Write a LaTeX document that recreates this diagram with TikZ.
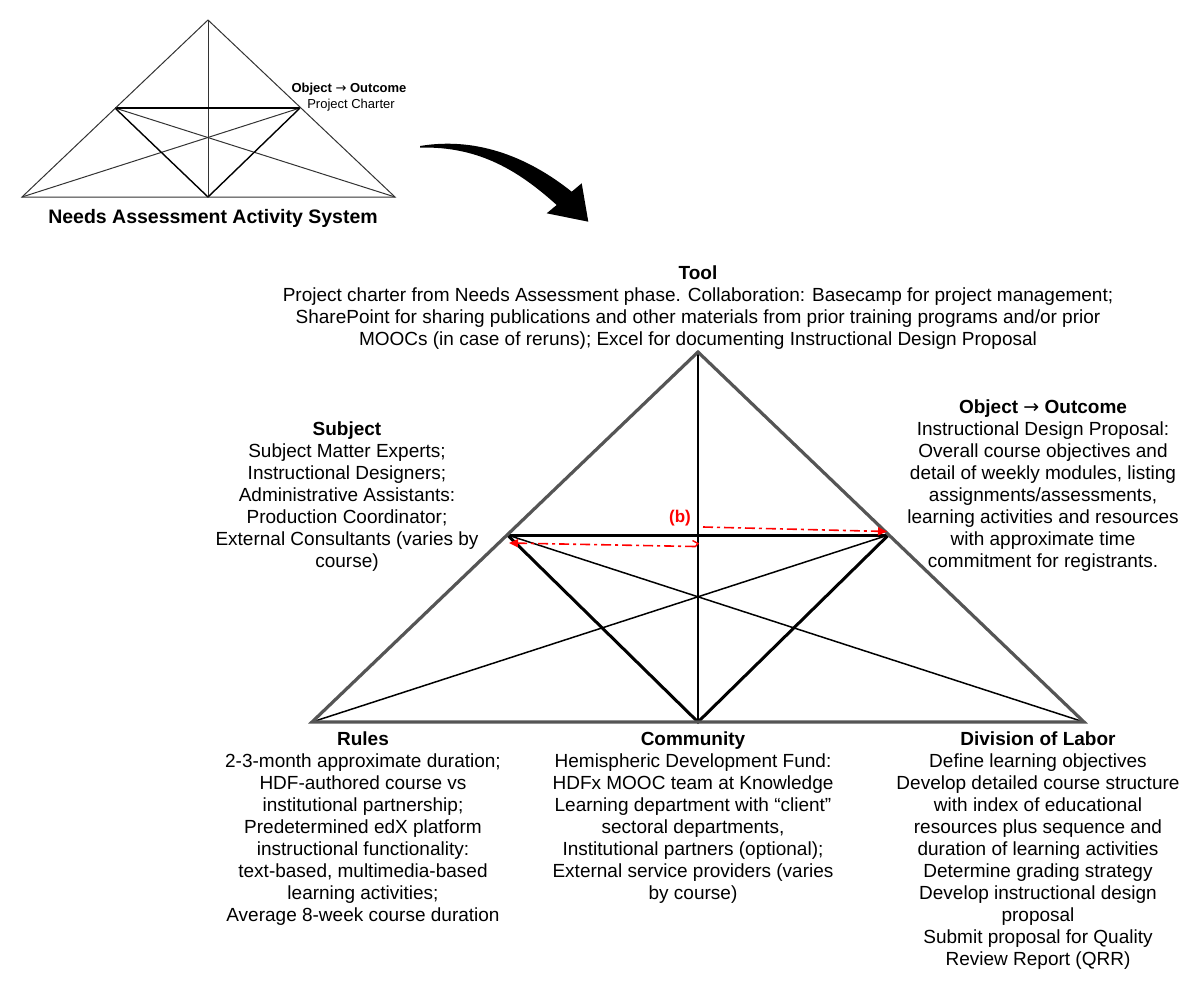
\documentclass[tikz,border=0pt]{standalone}
\usepackage{fontspec}
\setmainfont{Liberation Sans}
\newfontfamily\arrowfont{DejaVu Sans}
\newcommand{\myarrow}{{\arrowfont\mdseries →}}
\usetikzlibrary{arrows.meta}
\definecolor{edgegray}{HTML}{555555}
\definecolor{thingray}{HTML}{333333}
\definecolor{redline}{HTML}{FF0000}
\begin{document}
\begin{tikzpicture}[x=1pt,y=-1pt,
  body/.style={align=center, inner sep=0pt, anchor=north, font=\fontsize{19}{22}\selectfont},
  smalllab/.style={align=center, inner sep=0pt, font=\fontsize{13}{15}\selectfont},
  outerbig/.style={draw=edgegray, line width=3.2pt, line join=miter},
  thickblk/.style={draw=black, line width=3pt, line cap=round},
  thinblk/.style={draw=black, line width=1.5pt},
  smallthin/.style={draw=thingray, line width=1pt},
  smallthick/.style={draw=black, line width=1.4pt},
  redarrow/.style={draw=redline, line width=1.6pt, dash pattern=on 10pt off 4pt on 3pt off 4pt, -{Triangle[length=9pt,width=8pt]}}
]
\useasboundingbox (0,0) rectangle (1200,988);

% ---------- small triangle ----------
\coordinate (s0) at (208,20);
\coordinate (sl) at (22,197);
\coordinate (sr) at (395,197);
\coordinate (sm) at (208,197);
\coordinate (sil) at (115,108);
\coordinate (sir) at (300,108);
\draw[smallthin] (sil) -- (sr);
\draw[smallthin] (sir) -- (sl);
\draw[smallthin] (s0) -- (sm);
\draw[smallthick] (sil) -- (sir);
\draw[smallthick] (sil) -- (sm) -- (sir);
\draw[smallthin, line join=miter] (s0) -- (sl) -- (sr) -- cycle;

\node[smalllab] (soo) at (349,89) {\textbf{Object \myarrow{} Outcome}};
\node[smalllab] (spc) at (351,105) {Project Charter};
\node[inner sep=0pt, font=\fontsize{19.5}{22}\selectfont\bfseries] (needs) at (213,218) {Needs Assessment Activity System};

% ---------- curved arrow ----------
\fill[black] (420,146) .. controls (480,136) and (532,160) .. (571.7,191.7)
  -- (581.7,183.3) -- (588.3,221.7) -- (546.7,213.3) -- (556.7,205)
  .. controls (520,172) and (480,146) .. (420,147.6) -- cycle;

% ---------- big triangle ----------
\coordinate (A) at (698,352);
\coordinate (BL) at (312,722);
\coordinate (BR) at (1084,722);
\coordinate (BM) at (698,722);
\coordinate (IL) at (507.5,535);
\coordinate (IR) at (888.5,535);

\draw[thinblk] (IL) -- (BR);
\draw[thinblk] (IR) -- (BL);
\draw[thinblk] (A) -- (BM);
\draw[thickblk] (IL) -- (IR);
\draw[thickblk] (IL) -- (BM) -- (IR);
\draw[outerbig] (A) -- (BL) -- (BR) -- cycle;

% red arrows
\coordinate (rua) at (703,527);
\coordinate (rub) at (887,531.5);
\coordinate (rla) at (695,546.5);
\coordinate (rlb) at (509,543);
\draw[redarrow] (rua) -- (rub);
\draw[redarrow] (rla) -- (rlb);
\draw[draw=redline, line width=1.4pt] (692.5,540.5) -- (698,543.5) -- (695,547);
\node[text=redline, inner sep=0pt, font=\fontsize{17}{19}\selectfont\bfseries] (blab) at (680,518) {(b)};

% ---------- text blocks ----------
\node[body] (tool) at (698,266) {\textbf{Tool}\\
Project charter from Needs Assessment phase. Collaboration: Basecamp for project management;\\
SharePoint for sharing publications and other materials from prior training programs and/or prior\\
MOOCs (in case of reruns); Excel for documenting Instructional Design Proposal};

\node[body] (subject) at (347,422) {\textbf{Subject}\\
Subject Matter Experts;\\
Instructional Designers;\\
Administrative Assistants:\\
Production Coordinator;\\
External Consultants (varies by\\
course)};

\node[body] (object) at (1043,400) {\textbf{Object \myarrow{} Outcome}\\
Instructional Design Proposal:\\
Overall course objectives and\\
detail of weekly modules, listing\\
assignments/assessments,\\
learning activities and resources\\
with approximate time\\
commitment for registrants.};

\node[body] (rules) at (363,732) {\textbf{Rules}\\
2-3-month approximate duration;\\
HDF-authored course vs\\
institutional partnership;\\
Predetermined edX platform\\
instructional functionality:\\
text-based, multimedia-based\\
learning activities;\\
Average 8-week course duration};

\node[body] (community) at (693,732) {\textbf{Community}\\
Hemispheric Development Fund:\\
HDFx MOOC team at Knowledge\\
Learning department with “client”\\
sectoral departments,\\
Institutional partners (optional);\\
External service providers (varies\\
by course)};

\node[body] (division) at (1038,732) {\textbf{Division of Labor}\\
Define learning objectives\\
Develop detailed course structure\\
with index of educational\\
resources plus sequence and\\
duration of learning activities\\
Determine grading strategy\\
Develop instructional design\\
proposal\\
Submit proposal for Quality\\
Review Report (QRR)};
\end{tikzpicture}
\end{document}
